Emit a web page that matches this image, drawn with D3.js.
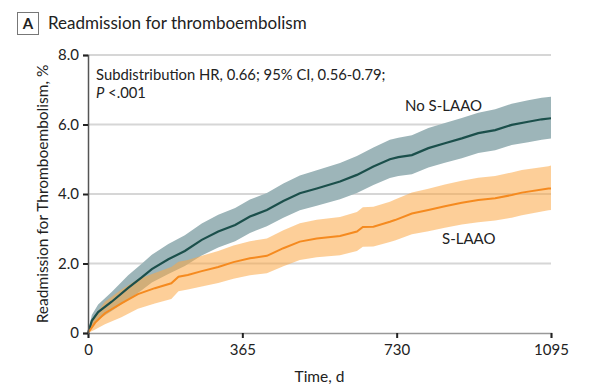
<!DOCTYPE html>
<html>
<head>
<meta charset="utf-8">
<script src="https://cdn.jsdelivr.net/npm/d3@7"></script>
<style>
  body { margin: 0; background: #fff; }
  svg text { font-family: Lato, "Open Sans", sans-serif; fill: #222; }
</style>
</head>
<body>
<svg id="graphic"></svg>
<script>
// Cumulative incidence (time in days, values in %)
const noTimes = [0, 9, 24, 56, 95, 127, 151, 190, 229, 269, 308, 348, 383, 423, 462, 501, 541, 596, 636, 675, 714, 734, 766, 805, 844, 884, 923, 963, 1002, 1041, 1073, 1095]
const noValues = [0, 0.35, 0.6, 0.9, 1.3, 1.6, 1.84, 2.12, 2.36, 2.68, 2.92, 3.11, 3.35, 3.54, 3.8, 4.02, 4.16, 4.36, 4.55, 4.79, 5.0, 5.06, 5.12, 5.32, 5.46, 5.6, 5.75, 5.84, 5.99, 6.08, 6.15, 6.18]
const noLower = [0, 0.18, 0.39, 0.63, 0.96, 1.23, 1.45, 1.7, 1.93, 2.23, 2.46, 2.64, 2.88, 3.07, 3.32, 3.53, 3.66, 3.85, 4.03, 4.26, 4.46, 4.52, 4.57, 4.76, 4.9, 5.03, 5.18, 5.26, 5.41, 5.49, 5.56, 5.6]
const noUpper = [0, 0.52, 0.82, 1.18, 1.66, 1.99, 2.25, 2.56, 2.81, 3.15, 3.4, 3.6, 3.84, 4.03, 4.3, 4.53, 4.68, 4.89, 5.09, 5.34, 5.56, 5.62, 5.69, 5.9, 6.04, 6.19, 6.34, 6.44, 6.6, 6.7, 6.77, 6.8]

const sTimes = [0, 17, 40, 79, 118, 158, 197, 214, 236, 269, 308, 344, 383, 423, 462, 501, 541, 596, 636, 650, 675, 714, 726, 766, 805, 844, 884, 923, 963, 1002, 1026, 1089, 1095]
const sValues = [0, 0.3, 0.57, 0.85, 1.12, 1.29, 1.43, 1.62, 1.67, 1.78, 1.9, 2.04, 2.15, 2.22, 2.44, 2.63, 2.72, 2.79, 2.92, 3.05, 3.06, 3.2, 3.25, 3.44, 3.54, 3.65, 3.75, 3.83, 3.88, 3.97, 4.04, 4.16, 4.16]
const sLower = [0, 0.1, 0.25, 0.45, 0.7, 0.85, 0.98, 1.2, 1.25, 1.34, 1.44, 1.56, 1.66, 1.72, 1.92, 2.1, 2.18, 2.24, 2.36, 2.48, 2.49, 2.62, 2.66, 2.84, 2.93, 3.03, 3.12, 3.19, 3.24, 3.32, 3.39, 3.53, 3.54]
const sUpper = [0, 0.52, 0.9, 1.25, 1.55, 1.73, 1.9, 2.05, 2.1, 2.22, 2.36, 2.52, 2.64, 2.72, 2.96, 3.16, 3.26, 3.34, 3.48, 3.62, 3.63, 3.78, 3.84, 4.04, 4.15, 4.27, 4.38, 4.47, 4.52, 4.62, 4.69, 4.8, 4.82]

const xTicks = [0, 365, 730, 1095]
const yTicks = [0, 2, 4, 6, 8]

const w = 590
const h = 389
const padLeft = 88, padRight = 551, padTop = 55, padBottom = 333

const graphic = d3.select("#graphic")
    .attr("width", w)
    .attr("height", h)

const xScale = d3.scaleLinear().domain([0, 1095]).range([padLeft, padRight])
const yScale = d3.scaleLinear().domain([0, 8]).range([padBottom, padTop])

// panel title
graphic.append("rect")
    .attr("x", 17.5).attr("y", 12.5).attr("width", 21).attr("height", 22)
    .attr("fill", "none").attr("stroke", "#777").attr("stroke-width", 1)
graphic.append("text")
    .attr("x", 28).attr("y", 29).attr("text-anchor", "middle")
    .attr("font-size", 15).attr("font-weight", "bold")
    .text("A")
graphic.append("text")
    .attr("x", 48).attr("y", 29)
    .attr("font-size", 17)
    .text("Readmission for thromboembolism")

// gridlines
graphic.append("g")
    .selectAll("line")
    .data(yTicks.filter(d => d > 0))
    .enter()
    .append("line")
    .attr("x1", padLeft).attr("x2", padRight)
    .attr("y1", d => yScale(d)).attr("y2", d => yScale(d))
    .attr("stroke", "#d6d6d6").attr("stroke-width", 2)

// bands and lines
function band(times, lo, hi){
    return d3.area()
        .x((d, i) => xScale(times[i]))
        .y0((d, i) => yScale(lo[i]))
        .y1((d, i) => yScale(hi[i]))(times)
}
function line(times, vals){
    return d3.line()
        .x((d, i) => xScale(times[i]))
        .y((d, i) => yScale(vals[i]))(times)
}

graphic.append("path")
    .attr("d", band(noTimes, noLower, noUpper))
    .attr("fill", "#9db5b9")
graphic.append("path")
    .attr("d", band(sTimes, sLower, sUpper))
    .attr("fill", "#fba845").attr("fill-opacity", 0.55)
graphic.append("path")
    .attr("d", line(noTimes, noValues))
    .attr("fill", "none").attr("stroke", "#1b4f4b").attr("stroke-width", 2.2)
graphic.append("path")
    .attr("d", line(sTimes, sValues))
    .attr("fill", "none").attr("stroke", "#f58a1f").attr("stroke-width", 2)

// axes
const axisBottom = d3.axisBottom(xScale).tickValues(xTicks).tickSize(5).tickPadding(6)
    .tickFormat(d3.format("d"))
const axisLeft = d3.axisLeft(yScale).tickValues(yTicks).tickSize(5).tickPadding(4)
    .tickFormat(d => d === 0 ? "0" : d3.format(".1f")(d))

const gx = graphic.append("g")
    .attr("id", "x-axis")
    .attr("transform", `translate(0, ${padBottom})`)
    .call(axisBottom)
gx.select(".domain").attr("stroke", "#999").attr("stroke-width", 1.5)
gx.selectAll(".tick line").attr("stroke", "#222").attr("stroke-width", 2)
gx.selectAll(".tick text").attr("font-size", 15).attr("font-family", null)

const gy = graphic.append("g")
    .attr("id", "y-axis")
    .attr("transform", `translate(${padLeft}, 0)`)
    .call(axisLeft)
gy.select(".domain").attr("stroke", "#555").attr("stroke-width", 1.5)
gy.selectAll(".tick line").attr("stroke", "#222").attr("stroke-width", 2)
gy.selectAll(".tick text").attr("font-size", 15).attr("font-family", null)

// axis labels
graphic.append("text")
    .attr("x", (padLeft + padRight) / 2).attr("y", 382)
    .attr("text-anchor", "middle").attr("font-size", 15.5)
    .text("Time, d")
graphic.append("text")
    .attr("transform", `translate(48, ${(padTop + padBottom) / 2}) rotate(-90)`)
    .attr("text-anchor", "middle").attr("font-size", 15.5)
    .text("Readmission for Thromboembolism, %")

// annotations
graphic.append("text")
    .attr("x", 96).attr("y", 80).attr("font-size", 14.8)
    .text("Subdistribution HR, 0.66; 95% CI, 0.56-0.79;")
const pText = graphic.append("text")
    .attr("x", 96).attr("y", 98).attr("font-size", 14.8)
pText.append("tspan").attr("font-style", "italic").text("P")
pText.append("tspan").text(" <.001")

graphic.append("text")
    .attr("x", 405).attr("y", 111).attr("font-size", 15)
    .text("No S-LAAO")
graphic.append("text")
    .attr("x", 442).attr("y", 244).attr("font-size", 15)
    .text("S-LAAO")
</script>
</body>
</html>
